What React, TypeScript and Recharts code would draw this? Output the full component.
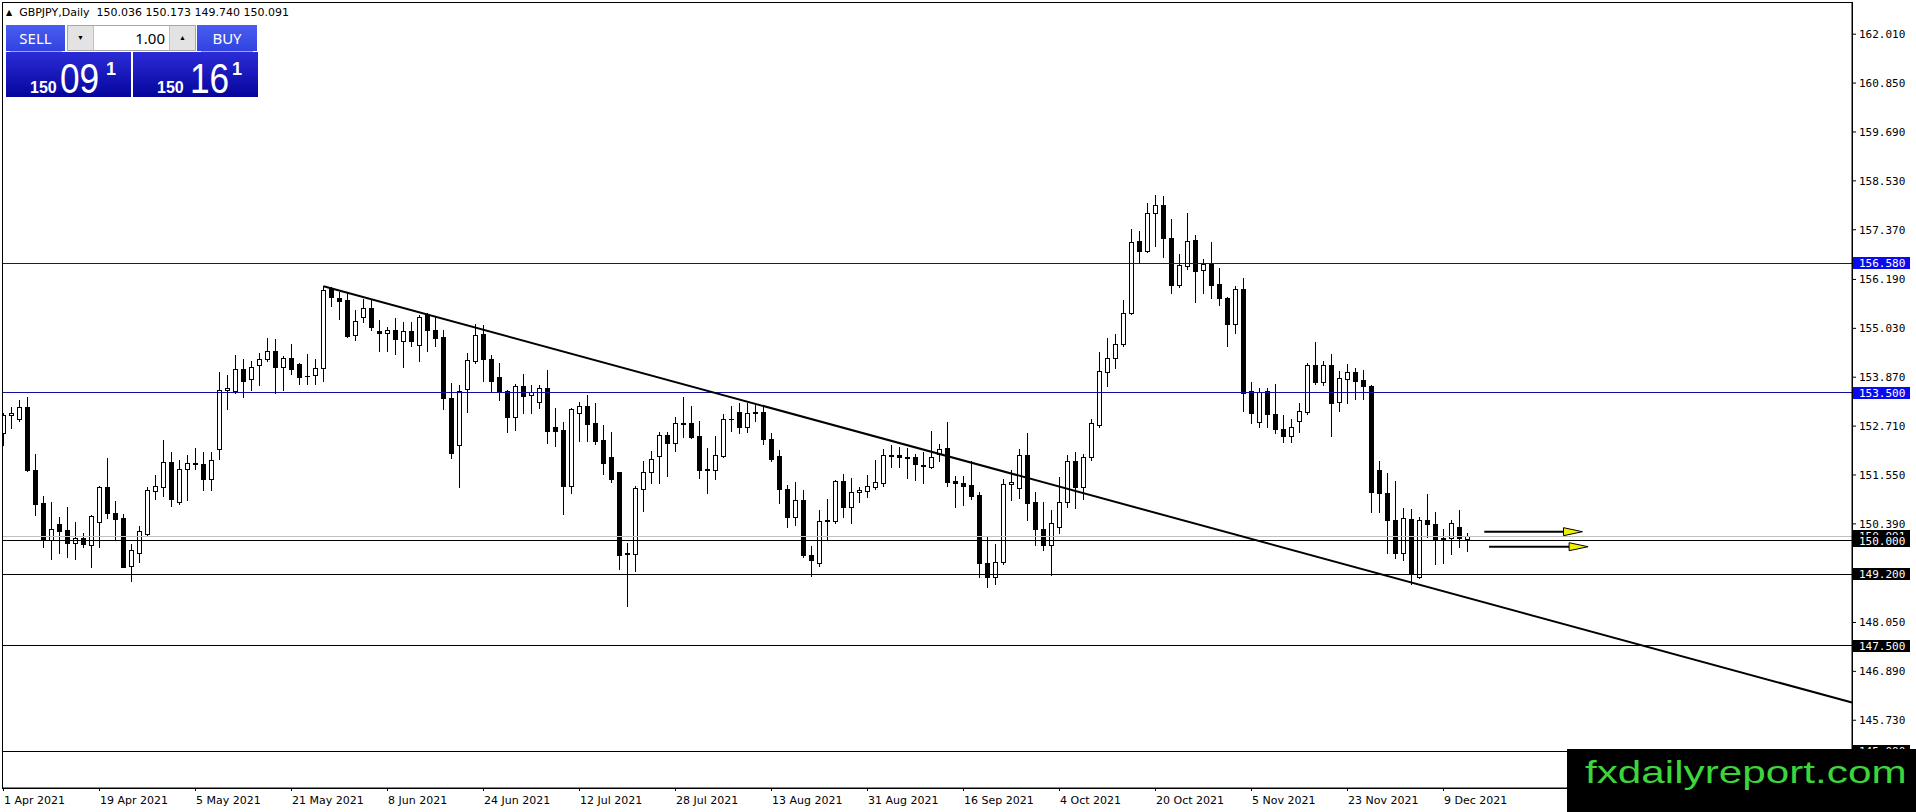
import React from 'react';
import { ComposedChart, Bar, XAxis, YAxis, ReferenceLine, ReferenceDot } from 'recharts';

// GBPJPY daily candles, 1 Apr 2021 .. 14 Dec 2021 (one row = 12 trading days)
const opens = [
  152.54, 152.97, 152.89, 153.16, 151.67, 150.89, 150.0, 150.39, 150.25, 149.94, 150.06, 149.9,
  150.44, 151.26, 150.64, 150.52, 149.39, 149.71, 150.15, 151.16, 151.27, 151.86, 150.92, 151.69,
  151.83, 151.8, 151.46, 152.16, 153.57, 153.55, 154.07, 153.82, 154.15, 154.31, 154.49, 154.12,
  154.32, 154.18, 153.9, 153.92, 154.08, 155.96, 155.74, 155.7, 154.86, 155.29, 155.51, 154.97,
  154.91, 154.99, 154.74, 154.97, 154.63, 155.35, 154.99, 154.82, 153.37, 152.25, 153.58, 154.25,
  154.9, 154.3, 153.87, 153.54, 152.93, 153.66, 153.45, 153.29, 153.61, 152.68, 152.62, 151.3,
  153.03, 153.19, 152.78, 152.38, 151.97, 151.61, 149.71, 149.67, 151.21, 151.63, 151.99, 152.5,
  152.32, 152.78, 152.78, 152.48, 151.69, 151.68, 152.01, 152.87, 153.04, 152.68, 153.01, 153.05,
  152.4, 152.0, 151.21, 150.56, 150.96, 149.65, 149.45, 150.46, 150.45, 151.41, 150.78, 151.14,
  151.18, 151.27, 151.37, 152.01, 152.02, 151.97, 151.97, 151.77, 151.73, 152.05, 152.2, 151.41,
  151.37, 151.31, 151.08, 149.45, 149.14, 149.48, 151.34, 151.23, 152.02, 150.92, 150.28, 149.9,
  150.31, 150.92, 151.87, 151.27, 151.97, 152.74, 154.0, 154.32, 154.65, 155.39, 157.1, 156.87,
  157.76, 157.96, 157.17, 156.05, 156.52, 157.13, 156.41, 156.57, 156.08, 155.74, 155.13, 155.96,
  153.54, 152.8, 153.54, 152.99, 152.64, 152.48, 152.84, 153.05, 154.16, 153.76, 154.16, 153.29,
  153.83, 153.99, 153.8, 153.66, 151.67, 151.12, 150.48, 149.71, 150.5, 149.12, 150.48, 150.39,
  150.05, 150.05, 150.31, 150.036,
];
const highs = [
  153.03, 153.17, 153.33, 153.39, 152.05, 151.05, 150.91, 150.56, 150.78, 150.43, 150.18, 150.6,
  151.29, 151.95, 150.93, 150.62, 149.91, 150.34, 151.26, 151.55, 152.38, 152.1, 151.91, 152.03,
  152.18, 152.09, 152.1, 153.99, 153.92, 154.4, 154.3, 154.26, 154.44, 154.79, 154.78, 154.37,
  154.66, 154.2, 154.42, 154.3, 156.04, 156.02, 155.9, 155.86, 155.47, 155.73, 155.72, 155.23,
  155.07, 155.27, 155.19, 155.18, 155.35, 155.4, 155.32, 154.99, 153.74, 153.69, 154.45, 155.13,
  155.1, 154.4, 154.2, 153.57, 153.71, 153.95, 153.69, 153.69, 154.04, 153.13, 152.81, 153.13,
  153.29, 153.45, 153.25, 152.74, 152.57, 151.62, 149.93, 151.3, 151.87, 152.12, 152.58, 152.58,
  152.93, 153.41, 153.19, 152.84, 152.18, 152.48, 152.99, 153.19, 153.27, 153.27, 153.25, 153.19,
  152.54, 152.14, 151.31, 151.39, 151.19, 149.87, 150.72, 150.97, 151.43, 151.57, 151.47, 151.26,
  151.55, 151.91, 152.16, 152.26, 152.22, 152.2, 152.05, 152.1, 152.59, 152.28, 152.8, 151.53,
  151.53, 151.89, 151.15, 150.1, 149.91, 151.45, 151.67, 152.16, 152.54, 151.15, 150.92, 150.72,
  151.51, 152.02, 152.1, 152.05, 152.89, 154.46, 154.79, 154.9, 155.7, 157.38, 157.34, 158.01,
  158.19, 158.17, 157.62, 156.79, 157.76, 157.25, 156.68, 157.09, 156.45, 155.77, 156.04, 156.22,
  153.76, 153.61, 153.61, 153.71, 152.97, 152.89, 153.27, 154.2, 154.7, 154.26, 154.42, 154.02,
  154.18, 154.1, 154.04, 153.69, 151.88, 151.59, 151.41, 150.76, 150.74, 150.56, 151.1, 150.68,
  150.28, 150.48, 150.72, 150.173,
];
const lows = [
  152.26, 152.66, 152.84, 151.65, 150.6, 149.85, 149.55, 149.71, 149.61, 149.55, 149.85, 149.36,
  149.85, 150.52, 150.01, 149.36, 149.03, 149.49, 150.1, 150.97, 151.04, 150.81, 150.86, 150.96,
  151.69, 151.19, 151.19, 151.93, 153.11, 153.5, 153.41, 153.57, 153.69, 154.26, 153.49, 153.57,
  153.95, 153.71, 153.71, 153.71, 153.79, 155.55, 155.26, 154.82, 154.75, 155.17, 154.99, 154.5,
  154.5, 154.42, 154.11, 154.6, 154.26, 154.5, 154.61, 153.11, 151.95, 151.27, 153.05, 154.2,
  153.79, 153.55, 153.33, 152.58, 152.62, 153.03, 153.03, 153.13, 152.32, 152.24, 150.62, 151.13,
  152.36, 152.36, 152.29, 151.57, 151.39, 149.31, 148.43, 149.26, 150.7, 151.37, 151.37, 151.53,
  152.13, 152.46, 152.42, 151.47, 151.13, 151.46, 151.97, 152.6, 152.54, 152.58, 152.82, 152.29,
  151.89, 150.88, 150.32, 150.36, 149.6, 149.15, 149.38, 150.01, 150.42, 150.56, 150.42, 150.92,
  151.02, 151.22, 151.3, 151.75, 151.75, 151.47, 151.42, 151.37, 151.71, 151.87, 151.29, 150.78,
  150.84, 150.97, 149.14, 148.9, 148.96, 149.44, 150.96, 151.0, 150.48, 149.89, 149.77, 149.18,
  150.18, 150.8, 150.76, 150.98, 151.91, 152.7, 153.65, 154.08, 154.61, 155.38, 156.59, 156.83,
  156.98, 156.73, 155.88, 156.0, 156.43, 155.66, 155.88, 155.74, 155.58, 154.61, 154.93, 153.08,
  152.78, 152.68, 152.7, 152.54, 152.34, 152.34, 152.58, 152.99, 153.71, 153.69, 152.48, 153.08,
  153.25, 153.35, 153.35, 150.68, 150.66, 149.69, 149.59, 149.53, 148.96, 149.1, 150.09, 149.43,
  149.45, 149.67, 149.83, 149.74,
];
const closes = [
  152.97, 153.01, 153.16, 151.67, 150.87, 150.04, 150.26, 150.23, 149.94, 150.05, 149.91, 150.58,
  151.26, 150.64, 150.5, 149.36, 149.76, 150.21, 151.19, 151.29, 151.86, 150.99, 151.69, 151.84,
  151.8, 151.46, 151.9, 153.57, 153.61, 154.06, 153.77, 154.11, 154.31, 154.49, 154.12, 154.32,
  154.07, 153.88, 153.89, 154.08, 155.94, 155.77, 155.69, 154.85, 155.2, 155.52, 155.05, 154.91,
  155.0, 154.77, 154.97, 154.74, 155.29, 154.98, 154.79, 153.37, 152.08, 153.55, 154.28, 154.86,
  154.3, 153.77, 153.53, 152.93, 153.66, 153.42, 153.53, 153.61, 152.6, 152.6, 151.3, 153.12,
  153.19, 152.76, 152.36, 151.84, 151.46, 149.64, 149.67, 151.23, 151.61, 151.92, 152.5, 152.32,
  152.78, 152.77, 152.44, 151.67, 151.68, 152.02, 152.87, 152.88, 152.68, 153.01, 153.05, 152.4,
  151.93, 151.21, 150.56, 150.96, 149.64, 149.53, 150.46, 150.47, 151.41, 150.78, 151.14, 151.19,
  151.29, 151.38, 152.02, 152.02, 151.97, 151.96, 151.8, 151.78, 151.97, 152.16, 151.39, 151.35,
  151.3, 151.04, 149.45, 149.14, 149.48, 151.34, 151.38, 152.02, 150.89, 150.28, 149.9, 150.4,
  150.92, 151.87, 151.27, 151.97, 152.78, 154.02, 154.32, 154.65, 155.39, 157.07, 156.87, 157.76,
  157.96, 157.17, 156.07, 156.53, 157.1, 156.4, 156.55, 156.07, 155.74, 155.13, 155.96, 153.5,
  153.01, 153.53, 152.99, 152.63, 152.48, 152.68, 153.07, 154.16, 153.76, 154.16, 153.25, 153.84,
  153.99, 153.79, 153.65, 151.15, 151.12, 150.47, 149.71, 150.52, 149.23, 150.48, 150.38, 150.01,
  150.01, 150.4, 150.05, 150.091,
];

const dateTicks = [0, 12, 24, 36, 48, 60, 72, 84, 96, 108, 120, 132, 144, 156, 168, 180];
const dateLabels = [
  '1 Apr 2021', '19 Apr 2021', '5 May 2021', '21 May 2021', '8 Jun 2021', '24 Jun 2021',
  '12 Jul 2021', '28 Jul 2021', '13 Aug 2021', '31 Aug 2021', '16 Sep 2021', '4 Oct 2021',
  '20 Oct 2021', '5 Nov 2021', '23 Nov 2021', '9 Dec 2021',
];
const priceTicks = [162.01, 160.85, 159.69, 158.53, 157.37, 156.19, 155.03, 153.87, 152.71, 151.55, 150.39, 148.05, 146.89, 145.73];

// drawn objects
const blueLevels = [156.58, 153.5];
const blackLevels = [150.0, 149.2, 147.5, 145.0];
const bidPrice = 150.091;
const trendStart = { x: 40, y: 156.03 };
const trendEnd = { x: 231.06, y: 146.15 };
const arrowFrom = [185.1, 185.7];
const arrowTo = [195.0, 195.7];
const arrowPrice = [150.204, 149.848];

const data = opens.map((o, i) => ({ i, open: o, high: highs[i], low: lows[i], close: closes[i] }));

const AX_FONT = 'DejaVu Sans Mono';
const TXT_FONT = 'DejaVu Sans';
const UI_FONT = 'Noto Sans';

const Candle = (props: any) => {
  const { x, y, width, height, payload } = props;
  if (!payload) return null;
  const { open, high, low, close } = payload;
  const top = Math.min(y, y + height);
  const h = Math.abs(height);
  const k = h / (high - low);
  const py = (p: number) => Math.round(top + (high - p) * k);
  const bx = Math.round(x);
  const cx = bx + Math.floor(width / 2) + 0.5;
  const yo = py(open);
  const yc = py(close);
  const bt = Math.min(yo, yc);
  const bb = Math.max(yo, yc);
  const bull = close >= open;
  return (
    <g>
      <line x1={cx} x2={cx} y1={Math.round(top)} y2={Math.round(top + h) + 1} stroke="#000" strokeWidth={1} />
      {bb - bt < 1 ? (
        <line x1={bx} x2={bx + width} y1={bt + 0.5} y2={bt + 0.5} stroke="#000" strokeWidth={1} />
      ) : bull ? (
        <rect x={bx + 0.5} y={bt + 0.5} width={width - 1} height={bb - bt} fill="#fff" stroke="#000" strokeWidth={1} />
      ) : (
        <rect x={bx} y={bt} width={width} height={bb - bt + 1} fill="#000" />
      )}
    </g>
  );
};

const DateTick = (props: any) => {
  const { x, y, payload } = props;
  const idx = dateTicks.indexOf(payload.value);
  return (
    <text x={x + 0.5} y={y + 11} textAnchor="start" fontSize={11} fontFamily={TXT_FONT} fill="#000">
      {dateLabels[idx]}
    </text>
  );
};

const levelLabel = (text: string, bg: string, dy = 0) => (props: any) => {
  const vb = props.viewBox || {};
  const lx = vb.x + vb.width + 1;
  const ly = Math.round(vb.y + dy);
  return (
    <g>
      <rect x={lx} y={ly - 6} width={57} height={12} fill={bg} />
      <text x={lx + 6} y={ly} dominantBaseline="central" fontSize={11} fontFamily={AX_FONT} fill="#fff">
        {text}
      </text>
    </g>
  );
};

const ArrowHead = (props: any) => {
  const { cx, cy } = props;
  return (
    <polygon
      points={`${cx},${cy - 4} ${cx + 19},${cy} ${cx},${cy + 4}`}
      fill="#f0f000"
      stroke="#000"
      strokeWidth={1}
    />
  );
};

// bid/ask price tile: small figure, big pips, superscript fraction
const PriceBox = ({ id, left, label, big, bigX, supX }: { id: string; left: number; label: string; big: string; bigX: number; supX: number }) => (
  <svg width={125} height={60} style={{ position: 'absolute', left, top: 52 }}>
    <defs>
      <linearGradient id={id} x1="0" y1="0" x2="0" y2="1">
        <stop offset="0" stopColor="#2c2cd8" />
        <stop offset="1" stopColor="#05059c" />
      </linearGradient>
    </defs>
    <rect x={0} y={0} width={125} height={45} fill={`url(#${id})`} />
    <text x={24} y={41} fontSize={16} fontWeight="bold" fontFamily="Liberation Sans" fill="#fff">{label}</text>
    <text x={bigX} y={41} fontSize={42} fontFamily="Liberation Sans" fill="#fff" transform={`translate(${bigX * 0.16} 0) scale(0.84 1)`}>
      {big}
    </text>
    <text x={supX} y={23} fontSize={18} fontWeight="bold" fontFamily="Liberation Sans" fill="#fff">1</text>
  </svg>
);

const btn: React.CSSProperties = {
  position: 'absolute', top: 25, height: 26, background: 'linear-gradient(#4a5df0, #3043e0)',
  color: '#fff', fontFamily: UI_FONT, fontSize: 15, display: 'flex',
  alignItems: 'center', justifyContent: 'center',
};

const App = () => (
  <div style={{ position: 'absolute', left: 0, top: 0, width: 1916, height: 812, background: '#fff', overflow: 'hidden' }}>
    <ComposedChart width={1916} height={812} data={data} margin={{ top: 2, right: 0, bottom: 0, left: 2 }}>
      <XAxis
        dataKey="i"
        type="number"
        domain={[-0.1875, 231.0625]}
        allowDataOverflow
        ticks={dateTicks}
        interval={0}
        tick={<DateTick />}
        tickSize={3}
        height={24}
        axisLine={{ stroke: '#000' }}
        tickLine={{ stroke: '#000' }}
      />
      <YAxis
        orientation="right"
        type="number"
        domain={[144.122, 162.774]}
        allowDataOverflow
        ticks={priceTicks}
        interval={0}
        width={64}
        tickSize={4}
        tickMargin={3}
        tickFormatter={(v: number) => v.toFixed(3)}
        tick={{ fontSize: 11, fontFamily: AX_FONT, fill: '#000' }}
        axisLine={{ stroke: '#000' }}
        tickLine={{ stroke: '#000' }}
      />
      {blueLevels.map((p) => (
        <ReferenceLine key={p} y={p} stroke="#10109a" strokeWidth={1} shapeRendering="crispEdges" label={levelLabel(p.toFixed(3), '#0a0af0')} />
      ))}
      <ReferenceLine y={bidPrice} stroke="#c0c0c0" strokeWidth={1} shapeRendering="crispEdges" label={levelLabel(bidPrice.toFixed(3), '#000')} />
      {blackLevels.map((p) => (
        <ReferenceLine key={p} y={p} stroke="#000" strokeWidth={1} shapeRendering="crispEdges" label={levelLabel(p.toFixed(3), '#000', p === 150 ? 1 : 0)} />
      ))}
      <Bar dataKey={(d: any) => [d.low, d.high]} barSize={5} shape={<Candle />} isAnimationActive={false} />
      <ReferenceLine segment={[trendStart, trendEnd]} stroke="#000" strokeWidth={2} ifOverflow="visible" />
      {arrowPrice.map((p, k) => (
        <ReferenceLine
          key={'a' + k}
          segment={[{ x: arrowFrom[k], y: p }, { x: arrowTo[k], y: p }]}
          stroke="#000"
          strokeWidth={2}
        />
      ))}
      {arrowPrice.map((p, k) => (
        <ReferenceDot key={'h' + k} x={arrowTo[k]} y={p} shape={<ArrowHead />} />
      ))}
    </ComposedChart>

    {/* plot frame */}
    <div style={{ position: 'absolute', left: 2, top: 2, width: 1849, height: 785, border: '1px solid #000', pointerEvents: 'none' }} />

    {/* header */}
    <div style={{ position: 'absolute', left: 6, top: 6, fontFamily: TXT_FONT, fontSize: 11, lineHeight: '14px', whiteSpace: 'pre' }}>
      <span style={{ fontSize: 8, marginRight: 7, verticalAlign: 1 }}>▲</span>
      {'GBPJPY,Daily  150.036 150.173 149.740 150.091'}
    </div>

    {/* one-click trading panel */}
    <div style={{ ...btn, left: 6, width: 59 }}>SELL</div>
    <div style={{ position: 'absolute', left: 10, top: 51, width: 52, height: 1, background: '#9aa6f5' }} />
    <div style={{ position: 'absolute', left: 67, top: 25, width: 127, height: 24, border: '1px solid #a8a8a8', background: '#fff', fontFamily: UI_FONT }}>
      <div style={{ position: 'absolute', left: 0, top: 0, width: 25, height: 24, background: '#e3e3e3', borderRight: '1px solid #c0c0c0', fontSize: 7, textAlign: 'center', lineHeight: '24px' }}>▼</div>
      <div style={{ position: 'absolute', right: 30, top: 0, height: 24, lineHeight: '24px', fontSize: 15 }}>1.00</div>
      <div style={{ position: 'absolute', right: 0, top: 0, width: 25, height: 24, background: '#e3e3e3', borderLeft: '1px solid #c0c0c0', fontSize: 7, textAlign: 'center', lineHeight: '24px' }}>▲</div>
    </div>
    <div style={{ ...btn, left: 197, width: 60 }}>BUY</div>
    <div style={{ position: 'absolute', left: 201, top: 51, width: 52, height: 1, background: '#9aa6f5' }} />
    <PriceBox id="sellGrad" left={6} label="150" big="09" bigX={54} supX={100} />
    <PriceBox id="buyGrad" left={133} label="150" big="16" bigX={57} supX={99} />

    {/* watermark */}
    <svg width={349} height={63} style={{ position: 'absolute', left: 1567, top: 749, background: '#000' }}>
      <text x={18} y={34} fontSize={32} fontFamily="Liberation Sans" fill="#3cd63c" transform="scale(1.32 1)" style={{ transformOrigin: '18px 0px' }}>
        fxdailyreport.com
      </text>
    </svg>
  </div>
);

export default App;
